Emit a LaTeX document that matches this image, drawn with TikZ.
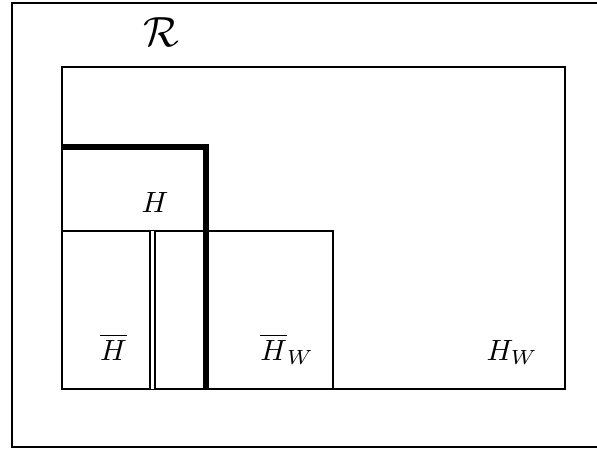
\documentclass[tikz,border=0pt]{standalone}
\begin{document}
\begin{tikzpicture}[x=0.012cm,y=-0.012cm,
    region/.style={line width=0.7pt},
    boundary/.style={line width=1.8pt},
    lbl/.style={anchor=base,inner sep=0pt}]

  % visible part of the page
  \clip (0,0) rectangle (597,449);

  % outer frame, its right side is cut off
  \draw[line width=0.8pt] (640,3) -- (12,3) -- (12,447) -- (640,447);

  % corners of the regions
  \coordinate (Rnw) at (62,67);
  \coordinate (Rse) at (565,389);
  \coordinate (Hw) at (62,231);
  \coordinate (Hbe) at (333,231);
  \coordinate (Hbs) at (333,389);
  \coordinate (Dn) at (152.5,231);
  \coordinate (Ds) at (152.5,389);

  % the set R
  \draw[region] (Rnw) rectangle (Rse);

  % split between H and the lower part
  \draw[region] (Hw) -- (Hbe) -- (Hbs);
  \draw[region,double,double distance=1.1pt] (Dn) -- (Ds);

  % thick boundary of H
  \draw[boundary] (62,147) -- (206,147) -- (206,390);

  % labels
  \node[lbl,font=\Large] (lR) at (161,47) {$\mathcal{R}$};
  \node[lbl] (lH) at (155,212) {$H$};
  \node[lbl] (lHbar) at (113.5,360) {$\overline{H}$};
  \node[lbl] (lHbarW) at (287,360) {$\overline{H}_W$};
  \node[lbl] (lHW) at (512,360) {$H_W$};

\end{tikzpicture}
\end{document}
